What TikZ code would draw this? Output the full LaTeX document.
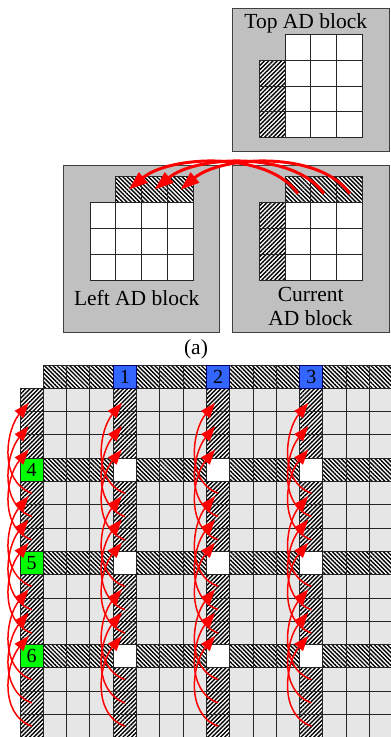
\documentclass[tikz,border=0pt]{standalone}
\usepackage{fontspec}
\setmainfont{Liberation Serif}
\usepackage{xcolor}
\usetikzlibrary{arrows.meta, patterns.meta}
\definecolor{blockgray}{HTML}{C0C0C0}
\definecolor{cellgray}{HTML}{E6E6E6}
\definecolor{numblue}{HTML}{3366FF}
\definecolor{numgreen}{HTML}{00FF00}
\tikzset{
  cellbase/.style={rectangle, draw=black!85, line width=0.9pt,
                   inner sep=0pt, outer sep=0pt},
  gridcell/.style={cellbase, minimum size=23.3pt},
  smallcell/.style={cellbase, minimum size=25.85pt},
  graycell/.style={gridcell, fill=cellgray},
  hatchne/.style={preaction={fill=white},
                  pattern={Lines[angle=45,distance=3pt,line width=1.4pt]}},
  hatchnw/.style={preaction={fill=white},
                  pattern={Lines[angle=-45,distance=3pt,line width=1.4pt]}},
  bluecell/.style={gridcell, fill=numblue, draw=blue!40!black,
                   font=\fontsize{20}{20}\selectfont},
  greencell/.style={gridcell, fill=numgreen,
                    font=\fontsize{20}{20}\selectfont},
  adblock/.style={rectangle, draw=black!75, fill=blockgray,
                  line width=0.9pt, inner sep=0pt},
  blktext/.style={anchor=base, font=\fontsize{21.5}{24}\selectfont},
  gridarrow/.style={-{Triangle[length=15pt,width=11pt]}, red, line width=1.5pt},
  movearrow/.style={-{Triangle[length=19pt,width=13pt]}, red, line width=3pt},
}
\begin{document}
\begin{tikzpicture}[x=1pt, y=-1pt]
  \useasboundingbox (0,0) rectangle (391,737);
  \clip (0,0) rectangle (391,737);

  % (a) the three AD blocks
  \node[adblock, minimum width=156.3pt, minimum height=142.7pt] (topblk) at (310.85,79.65) {};
  \node[adblock, minimum width=156pt, minimum height=167.3pt] (leftblk) at (141.3,248.65) {};
  \node[adblock, minimum width=156.3pt, minimum height=167.3pt] (curblk) at (310.85,248.65) {};

  \begin{scope}[shift={(259.2pt,-34.3pt)}, x=25.85pt, y=-25.85pt]
    \foreach \c in {1,2,3}
      \foreach \r in {0,...,3}
        \node[smallcell, fill=white] (top-\c-\r) at (\c+0.5,\r+0.5) {};
    \foreach \r in {1,2,3}
      \node[smallcell, hatchne] (top-0-\r) at (0.5,\r+0.5) {};
  \end{scope}

  \begin{scope}[shift={(90pt,-176.7pt)}, x=25.85pt, y=-25.85pt]
    \foreach \c in {0,...,3}
      \foreach \r in {1,2,3}
        \node[smallcell, fill=white] (left-\c-\r) at (\c+0.5,\r+0.5) {};
    \foreach \c in {1,2,3}
      \node[smallcell, hatchnw] (left-\c-0) at (\c+0.5,0.5) {};
  \end{scope}

  \begin{scope}[shift={(259.2pt,-176.7pt)}, x=25.85pt, y=-25.85pt]
    \foreach \c in {1,2,3}
      \foreach \r in {1,2,3}
        \node[smallcell, fill=white] (cur-\c-\r) at (\c+0.5,\r+0.5) {};
    \foreach \c in {1,2,3}
      \node[smallcell, hatchnw] (cur-\c-0) at (\c+0.5,0.5) {};
    \foreach \r in {1,2,3}
      \node[smallcell, hatchne] (cur-0-\r) at (0.5,\r+0.5) {};
  \end{scope}

  \node[blktext] (toplbl)  at (305.8,28.3)  {Top AD block};
  \node[blktext] (leftlbl) at (136.7,305.5) {Left AD block};
  \node[blktext] (curlbla) at (310.7,301.5) {Current};
  \node[blktext] (curlblb) at (310.5,325.5) {AD block};
  \node[blktext] (capa)    at (196,354)     {(a)};

  \foreach \k in {1,2,3}
    \draw[movearrow] ([yshift=-4pt]cur-\k-0.center) to[out=125,in=40,looseness=0.8] (left-\k-0.center);

  % grid of AD blocks
  \begin{scope}[shift={(20pt,-365pt)}, x=23.3pt, y=-23.3pt]
    \foreach \c in {1,2,3,5,6,7,9,10,11,13,14,15}
      \foreach \r in {1,2,3,5,6,7,9,10,11,13,14,15}
        \node[graycell] (g-\c-\r) at (\c+0.5,\r+0.5) {};
    \foreach \c in {0,4,8,12}
      \foreach \r in {1,2,3,5,6,7,9,10,11,13,14,15}
        \node[gridcell, hatchne] (g-\c-\r) at (\c+0.5,\r+0.5) {};
    \foreach \r in {0,4,8,12}
      \foreach \c in {1,2,3,5,6,7,9,10,11,13,14,15}
        \node[gridcell, hatchnw] (g-\c-\r) at (\c+0.5,\r+0.5) {};
    \foreach \c in {4,8,12}
      \foreach \r in {4,8,12}
        \node[gridcell, fill=white] (g-\c-\r) at (\c+0.5,\r+0.5) {};
    \foreach \c [count=\n] in {4,8,12}
      \node[bluecell] (g-\c-0) at (\c+0.5,0.5) {\n};
    \foreach \r [count=\n from 4] in {4,8,12}
      \node[greencell] (g-0-\r) at (0.5,\r+0.5) {\n};

    \foreach \c in {0,4,8,12}
      \foreach \r in {1,2,3,5,6,7,9,10,11}{
        \pgfmathtruncatemacro{\s}{\r+4}
        \draw[gridarrow] (g-\c-\s.center) to[out=160,in=230] ([xshift=-3pt,yshift=-3pt]g-\c-\r.center);
      }
  \end{scope}
\end{tikzpicture}
\end{document}
